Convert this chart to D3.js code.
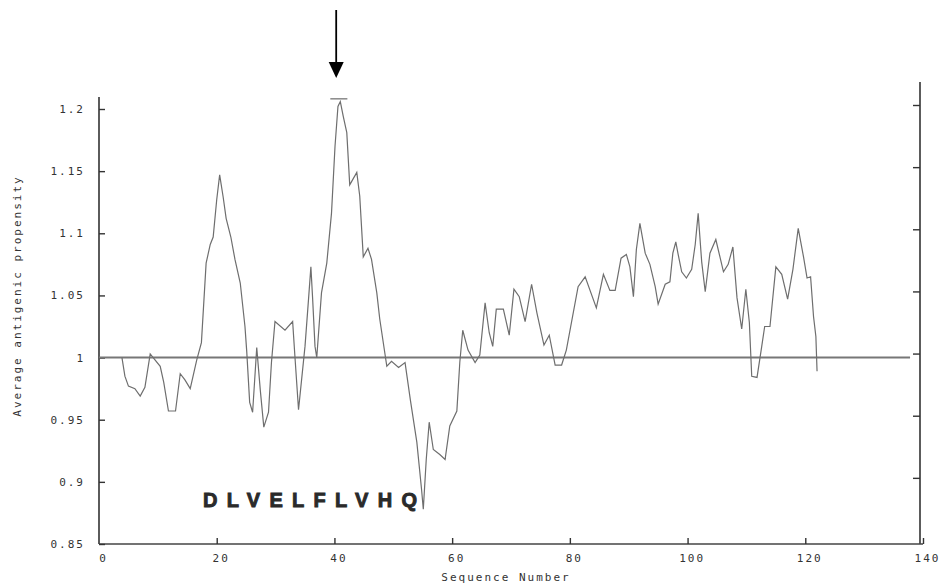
<!DOCTYPE html>
<html>
<head>
<meta charset="utf-8">
<script src="https://cdn.jsdelivr.net/npm/d3@7"></script>
<style>
  body { margin: 0; background: #fff; }
  svg { display: block; }
  .mono { font-family: "DejaVu Sans Mono", monospace; font-size: 11px; fill: #333; letter-spacing: 2px; }
</style>
</head>
<body>
<svg id="chart" width="945" height="584"></svg>
<script>
// traced profile: sequence position / average antigenic propensity
var seqNum = [3.9, 4.4, 5.0, 6.1, 7.0, 7.8, 8.7, 9.2, 10.4, 11.0, 11.8, 13.0, 13.8, 14.6, 15.5, 16.6, 17.4,
  18.2, 18.9, 19.4, 20.0, 20.5, 21.1, 21.6, 22.4, 23.1, 24.0, 24.8, 25.1, 25.6, 26.1, 26.8, 27.4, 28.0,
  28.8, 29.3, 29.9, 31.6, 32.9, 33.3, 33.9, 35.0, 35.6, 36.0, 36.3, 36.7, 37.0, 37.8, 38.7, 39.5, 40.1,
  40.6, 41.0, 41.5, 42.1, 42.6, 43.8, 44.3, 44.9, 45.7, 46.3, 47.2, 47.7, 48.9, 49.7, 50.9, 52.0, 52.9,
  54.0, 54.8, 55.1, 55.6, 56.1, 56.8, 57.9, 58.8, 59.6, 60.8, 61.3, 61.8, 62.7, 63.9, 64.7, 65.6, 66.3,
  66.9, 67.5, 68.7, 69.7, 70.5, 71.4, 72.4, 73.5, 74.4, 75.6, 76.5, 77.5, 78.6, 79.4, 81.4, 82.6, 84.5,
  85.7, 86.8, 87.7, 88.7, 89.6, 90.2, 90.8, 91.3, 91.9, 92.8, 93.6, 94.5, 95.0, 96.2, 97.0, 97.5, 98.0,
  98.4, 99.0, 99.8, 100.7, 101.3, 101.8, 102.4, 103.0, 103.8, 104.8, 106.1, 106.9, 107.7, 108.4, 109.2,
  109.9, 110.5, 110.9, 111.8, 112.6, 113.1, 114.0, 115.0, 116.0, 117.0, 117.9, 118.8, 119.7, 120.3,
  120.9, 121.4, 121.8, 122.0]
var propensity = [1.000, 0.985, 0.977, 0.975, 0.969, 0.976, 1.003, 1.000, 0.993, 0.980, 0.957, 0.957, 0.987,
  0.982, 0.975, 0.998, 1.012, 1.076, 1.091, 1.097, 1.127, 1.147, 1.129, 1.112, 1.097, 1.079, 1.060, 1.025,
  1.005, 0.964, 0.956, 1.008, 0.974, 0.944, 0.956, 0.996, 1.029, 1.022, 1.029, 1.000, 0.958, 1.009, 1.047,
  1.073, 1.047, 1.009, 1.000, 1.052, 1.076, 1.116, 1.170, 1.202, 1.206, 1.194, 1.181, 1.139, 1.149, 1.130,
  1.081, 1.088, 1.079, 1.052, 1.031, 0.993, 0.997, 0.992, 0.996, 0.966, 0.932, 0.894, 0.878, 0.918, 0.948,
  0.926, 0.922, 0.918, 0.945, 0.957, 0.996, 1.022, 1.006, 0.996, 1.002, 1.044, 1.020, 1.009, 1.039, 1.039,
  1.018, 1.055, 1.049, 1.029, 1.059, 1.036, 1.010, 1.018, 0.994, 0.994, 1.006, 1.057, 1.065, 1.040, 1.067,
  1.054, 1.054, 1.080, 1.083, 1.073, 1.049, 1.087, 1.108, 1.084, 1.075, 1.057, 1.043, 1.059, 1.061, 1.084,
  1.093, 1.083, 1.069, 1.064, 1.071, 1.091, 1.116, 1.077, 1.053, 1.084, 1.095, 1.069, 1.075, 1.089, 1.048,
  1.023, 1.055, 1.028, 0.985, 0.984, 1.009, 1.025, 1.025, 1.073, 1.067, 1.047, 1.071, 1.104, 1.081, 1.064,
  1.065, 1.033, 1.017, 0.989]
var xTicks = [0, 20, 40, 60, 80, 100, 120, 140]
var yTicks = [0.85, 0.9, 0.95, 1, 1.05, 1.1, 1.15, 1.2]
var threshold = 1.0
var thresholdEnd = 137.8
var peak = {start: 39.3, end: 42.2, value: 1.209, arrowAt: 40.3}
var epitope = "DLVELFLVHQ"

var svg = d3.select("#chart")
var x = d3.scaleLinear().domain([0, 140]).range([99, 923])
var y = d3.scaleLinear().domain([0.85, 1.2]).range([544, 109])
var x0 = x(0), x1 = x(140), yb = y(0.85)

// frame lines
svg.append("line").attr("x1", x0).attr("x2", x0).attr("y1", 97).attr("y2", yb)
  .attr("stroke", "#333").attr("stroke-width", 1.6)
svg.append("line").attr("x1", x1 - 3).attr("x2", x1 - 3).attr("y1", 82).attr("y2", yb)
  .attr("stroke", "#333").attr("stroke-width", 1.6)
svg.append("line").attr("x1", x0).attr("x2", x1).attr("y1", yb).attr("y2", yb)
  .attr("stroke", "#444").attr("stroke-width", 1.6)

// left axis
var gl = svg.append("g").attr("transform", "translate(" + x0 + ",0)")
  .call(d3.axisLeft(y).tickValues(yTicks).tickFormat(d3.format("")).tickSizeInner(-6).tickSizeOuter(0).tickPadding(14))
gl.select(".domain").remove()
gl.selectAll(".tick line").attr("stroke", "#333").attr("stroke-width", 1.4)
gl.selectAll(".tick text").attr("class", "mono").attr("fill", null)
gl.attr("font-family", null).attr("font-size", null)

// right axis (ticks only, pointing left)
var gr = svg.append("g").attr("transform", "translate(" + (x1 - 3) + ",-4)")
  .call(d3.axisRight(y).tickValues(yTicks.slice(1)).tickFormat("").tickSizeInner(-7).tickSizeOuter(0))
gr.select(".domain").remove()
gr.selectAll(".tick line").attr("stroke", "#333").attr("stroke-width", 1.4)

// bottom axis
var gb = svg.append("g").attr("transform", "translate(0," + yb + ")")
  .call(d3.axisBottom(x).tickValues(xTicks).tickSizeInner(-6).tickSizeOuter(0).tickPadding(10))
gb.select(".domain").remove()
gb.selectAll(".tick line").attr("stroke", "#333").attr("stroke-width", 1.4)
gb.selectAll(".tick text").attr("class", "mono").attr("fill", null).attr("dx", 4)
gb.selectAll(".tick").filter(function (d) { return d === 0 }).select("line").remove()
gb.attr("font-family", null).attr("font-size", null)

// axis titles
svg.append("text").attr("class", "mono")
  .attr("transform", "translate(21,296) rotate(-90)")
  .attr("text-anchor", "middle").text("Average antigenic propensity")
svg.append("text").attr("class", "mono")
  .attr("x", 506).attr("y", 581).attr("text-anchor", "middle").text("Sequence Number")

// threshold line
svg.append("line").attr("x1", x0).attr("x2", x(thresholdEnd))
  .attr("y1", y(threshold)).attr("y2", y(threshold))
  .attr("stroke", "#777").attr("stroke-width", 2)

// profile
var pts = seqNum.map(function (s, i) { return [s, propensity[i]] })
svg.append("path").datum(pts)
  .attr("d", d3.line().x(function (d) { return x(d[0]) }).y(function (d) { return y(d[1]) }))
  .attr("fill", "none").attr("stroke", "#6e6e6e").attr("stroke-width", 1.2)

// peak marker
svg.append("line").attr("x1", x(peak.start)).attr("x2", x(peak.end))
  .attr("y1", y(peak.value) + 1).attr("y2", y(peak.value) + 1)
  .attr("stroke", "#888").attr("stroke-width", 1.5)

// arrow
var ax = x(peak.arrowAt)
svg.append("line").attr("x1", ax).attr("x2", ax).attr("y1", 10).attr("y2", 64)
  .attr("stroke", "#000").attr("stroke-width", 1.8)
svg.append("path").attr("d", "M" + (ax - 7.5) + ",62 L" + (ax + 7.5) + ",62 L" + ax + ",78 Z")
  .attr("fill", "#000")

// epitope sequence
svg.append("text").attr("x", 203).attr("y", 507)
  .attr("font-family", "Liberation Sans, Arial, sans-serif").attr("font-weight", "bold")
  .attr("font-size", 20).attr("letter-spacing", "9.3px").attr("fill", "#2a2a2a")
  .attr("stroke", "#2a2a2a").attr("stroke-width", 0.9)
  .text(epitope)
</script>
</body>
</html>
